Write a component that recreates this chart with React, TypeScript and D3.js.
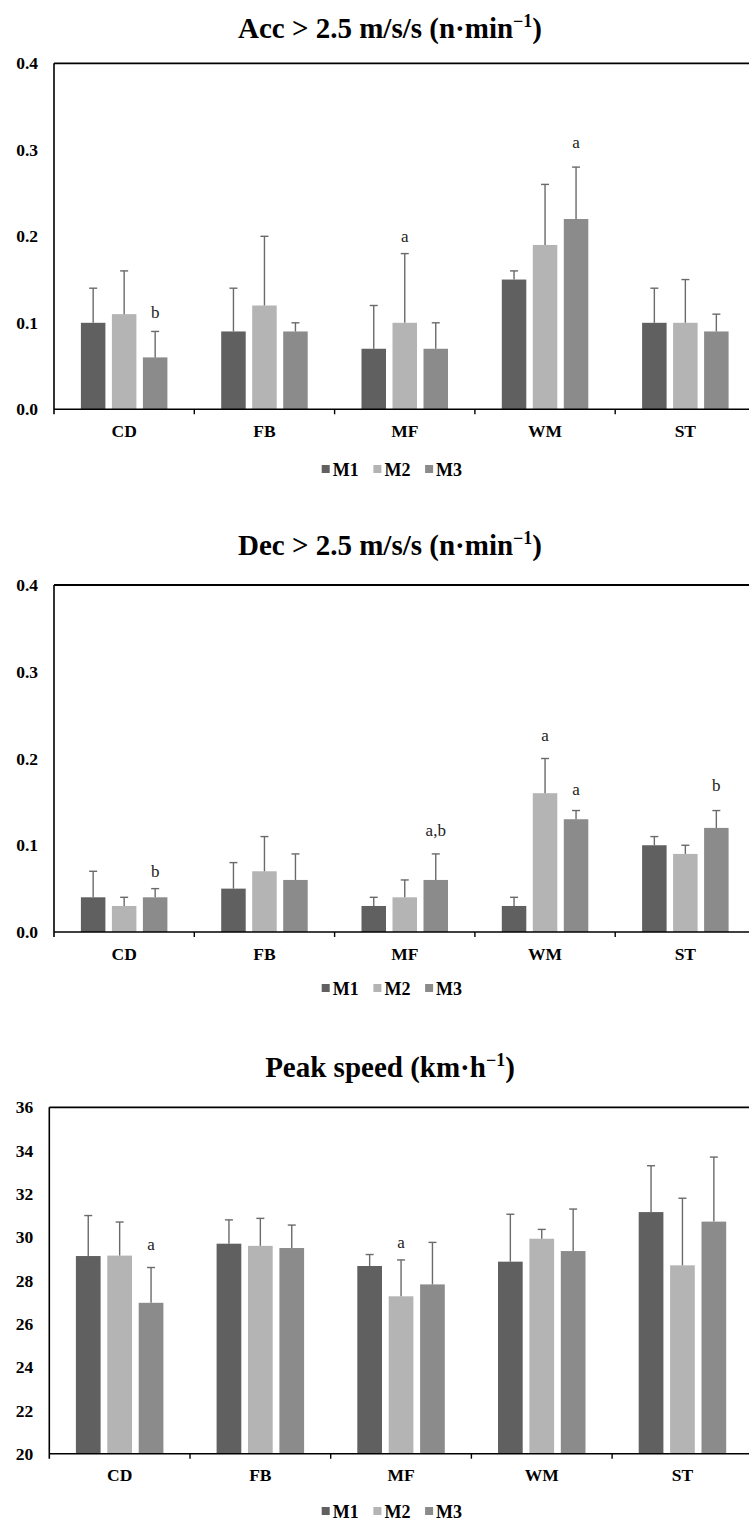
import React from "react";
import * as d3 from "d3";

// Playing positions and match periods
const categories = ["CD", "FB", "MF", "WM", "ST"];
const seriesNames = ["M1", "M2", "M3"];
const seriesColors = ["#606060", "#b4b4b4", "#8b8b8b"];

// Accelerations > 2.5 m/s/s (n·min⁻¹): means and SDs per period
const accM1 = [0.1, 0.09, 0.07, 0.15, 0.1];
const accM2 = [0.11, 0.12, 0.1, 0.19, 0.1];
const accM3 = [0.06, 0.09, 0.07, 0.22, 0.09];
const accSdM1 = [0.04, 0.05, 0.05, 0.01, 0.04];
const accSdM2 = [0.05, 0.08, 0.08, 0.07, 0.05];
const accSdM3 = [0.03, 0.01, 0.03, 0.06, 0.02];
const accNotes = [
  { cat: "CD", series: "M3", text: "b", at: 0.112 },
  { cat: "MF", series: "M2", text: "a", at: 0.2 },
  { cat: "WM", series: "M3", text: "a", at: 0.309 },
];

// Decelerations > 2.5 m/s/s (n·min⁻¹)
const decM1 = [0.04, 0.05, 0.03, 0.03, 0.1];
const decM2 = [0.03, 0.07, 0.04, 0.16, 0.09];
const decM3 = [0.04, 0.06, 0.06, 0.13, 0.12];
const decSdM1 = [0.03, 0.03, 0.01, 0.01, 0.01];
const decSdM2 = [0.01, 0.04, 0.02, 0.04, 0.01];
const decSdM3 = [0.01, 0.03, 0.03, 0.01, 0.02];
const decNotes = [
  { cat: "CD", series: "M3", text: "b", at: 0.0707 },
  { cat: "MF", series: "M3", text: "a,b", at: 0.1176 },
  { cat: "WM", series: "M2", text: "a", at: 0.227 },
  { cat: "WM", series: "M3", text: "a", at: 0.1646 },
  { cat: "ST", series: "M3", text: "b", at: 0.1695 },
];

// Peak speed (km·h⁻¹)
const peakM1 = [29.13, 29.7, 28.67, 28.87, 31.16];
const peakM2 = [29.15, 29.6, 27.27, 29.93, 28.7];
const peakM3 = [26.97, 29.5, 27.82, 29.36, 30.72];
const peakSdM1 = [1.87, 1.1, 0.53, 2.19, 2.14];
const peakSdM2 = [1.55, 1.27, 1.68, 0.43, 3.1];
const peakSdM3 = [1.63, 1.06, 1.94, 1.94, 2.98];
const peakNotes = [
  { cat: "CD", series: "M3", text: "a", at: 29.67 },
  { cat: "MF", series: "M2", text: "a", at: 29.76 },
];

const rateTicks = [0, 0.1, 0.2, 0.3, 0.4];
const speedTicks = [20, 22, 24, 26, 28, 30, 32, 34, 36];

const FONT = "'Liberation Serif', 'Times New Roman', serif";
const W = 749;
const H = 1522;

type Note = { cat: string; series: string; text: string; at: number };
type PanelProps = {
  title: string;
  sup: string;
  titleY: number;
  left: number;
  top: number;
  bottom: number;
  step: number;
  barStep: number;
  barWidth: number;
  domain: [number, number];
  ticks: number[];
  fmt: (v: number) => string;
  means: number[][];
  sds: number[][];
  notes: Note[];
  legendY: number;
};

function Panel(p: PanelProps) {
  const right = p.left + p.step * categories.length;
  const x = d3.scaleBand<string>().domain(categories).range([p.left, right]).padding(0);
  const gap = p.barStep - p.barWidth;
  const inner = d3
    .scaleBand<string>()
    .domain(seriesNames)
    .range([-(p.barStep * 3 - gap) / 2, (p.barStep * 3 - gap) / 2])
    .paddingInner(gap / p.barStep)
    .paddingOuter(0);
  const y = d3.scaleLinear().domain(p.domain).range([p.bottom, p.top]);
  const center = (c: string) => (x(c) as number) + x.bandwidth() / 2;
  const barX = (c: string, s: string) => center(c) + (inner(s) as number);
  const bw = inner.bandwidth();

  return (
    <g>
      <text
        x={390}
        y={p.titleY}
        textAnchor="middle"
        fontFamily={FONT}
        fontWeight="bold"
        fontSize={29}
        fill="#000"
      >
        {p.title}
        <tspan fontSize={18} dy={-11}>
          {p.sup}
        </tspan>
        <tspan dy={11}>)</tspan>
      </text>

      {/* bars */}
      {seriesNames.map((s, si) =>
        categories.map((c, ci) => (
          <rect
            key={s + c}
            x={barX(c, s)}
            y={y(p.means[si][ci])}
            width={bw}
            height={y(p.domain[0]) - y(p.means[si][ci])}
            fill={seriesColors[si]}
          />
        ))
      )}

      {/* upper error bars */}
      {seriesNames.map((s, si) =>
        categories.map((c, ci) => {
          const cx = barX(c, s) + bw / 2;
          const y0 = y(p.means[si][ci]);
          const y1 = y(p.means[si][ci] + p.sds[si][ci]);
          return (
            <g key={"e" + s + c} stroke="#6a6a6a" strokeWidth={1.4}>
              <line x1={cx} x2={cx} y1={y0} y2={y1} />
              <line x1={cx - 4} x2={cx + 4} y1={y1} y2={y1} />
            </g>
          );
        })
      )}

      {/* significance letters */}
      {p.notes.map((n, i) => (
        <text
          key={"n" + i}
          x={barX(n.cat, n.series) + bw / 2}
          y={y(n.at)}
          dy="0.35em"
          textAnchor="middle"
          fontFamily={FONT}
          fontSize={17}
          fill="#222"
        >
          {n.text}
        </text>
      ))}

      {/* frame: left axis, top border, bottom axis */}
      <line x1={p.left} x2={W + 10} y1={p.top} y2={p.top} stroke="#000" strokeWidth={1.8} />
      <line x1={p.left} x2={p.left} y1={p.top} y2={p.bottom + 5} stroke="#000" strokeWidth={1.6} />
      <line x1={p.left} x2={W + 10} y1={p.bottom} y2={p.bottom} stroke="#000" strokeWidth={1.6} />
      {categories.slice(1).map((c) => (
        <line
          key={"t" + c}
          x1={x(c) as number}
          x2={x(c) as number}
          y1={p.bottom}
          y2={p.bottom + 5}
          stroke="#000"
          strokeWidth={1.4}
        />
      ))}

      {/* y tick labels */}
      {p.ticks.map((t) => (
        <text
          key={"y" + t}
          x={p.left - 16}
          y={y(t)}
          dy="0.35em"
          textAnchor="end"
          fontFamily={FONT}
          fontWeight="bold"
          fontSize={17.5}
          fill="#000"
        >
          {p.fmt(t)}
        </text>
      ))}

      {/* category labels */}
      {categories.map((c) => (
        <text
          key={"c" + c}
          x={center(c)}
          y={p.bottom + 27.7}
          textAnchor="middle"
          fontFamily={FONT}
          fontWeight="bold"
          fontSize={17.5}
          fill="#000"
        >
          {c}
        </text>
      ))}

      {/* legend */}
      {seriesNames.map((s, si) => {
        const lx = 321.7 + si * 51.7;
        return (
          <g key={"l" + s}>
            <rect x={lx} y={p.legendY - 11} width={8} height={8} fill={seriesColors[si]} />
            <text
              x={lx + 11}
              y={p.legendY}
              fontFamily={FONT}
              fontWeight="bold"
              fontSize={18}
              fill="#000"
            >
              {s}
            </text>
          </g>
        );
      })}
    </g>
  );
}

export default function App() {
  const f1 = d3.format(".1f");
  const f0 = d3.format("d");
  return (
    <svg
      width={W}
      height={H}
      viewBox={`0 0 ${W} ${H}`}
      style={{ position: "absolute", left: 0, top: 0, background: "#fff" }}
    >
      <rect x={0} y={0} width={W} height={H} fill="#fff" />
      <Panel
        title="Acc > 2.5 m/s/s (n·min"
        sup="−1"
        titleY={38}
        left={54}
        top={63.3}
        bottom={409.3}
        step={140.3}
        barStep={31}
        barWidth={24.5}
        domain={[0, 0.4]}
        ticks={rateTicks}
        fmt={f1}
        means={[accM1, accM2, accM3]}
        sds={[accSdM1, accSdM2, accSdM3]}
        notes={accNotes}
        legendY={476}
      />
      <Panel
        title="Dec > 2.5 m/s/s (n·min"
        sup="−1"
        titleY={555}
        left={54}
        top={585}
        bottom={932}
        step={140.3}
        barStep={31}
        barWidth={24.5}
        domain={[0, 0.4]}
        ticks={rateTicks}
        fmt={f1}
        means={[decM1, decM2, decM3]}
        sds={[decSdM1, decSdM2, decSdM3]}
        notes={decNotes}
        legendY={995}
      />
      <Panel
        title="Peak speed (km·h"
        sup="−1"
        titleY={1077}
        left={49.3}
        top={1107.3}
        bottom={1453.7}
        step={140.7}
        barStep={31.4}
        barWidth={24.7}
        domain={[20, 36]}
        ticks={speedTicks}
        fmt={f0}
        means={[peakM1, peakM2, peakM3]}
        sds={[peakSdM1, peakSdM2, peakSdM3]}
        notes={peakNotes}
        legendY={1518}
      />
    </svg>
  );
}
